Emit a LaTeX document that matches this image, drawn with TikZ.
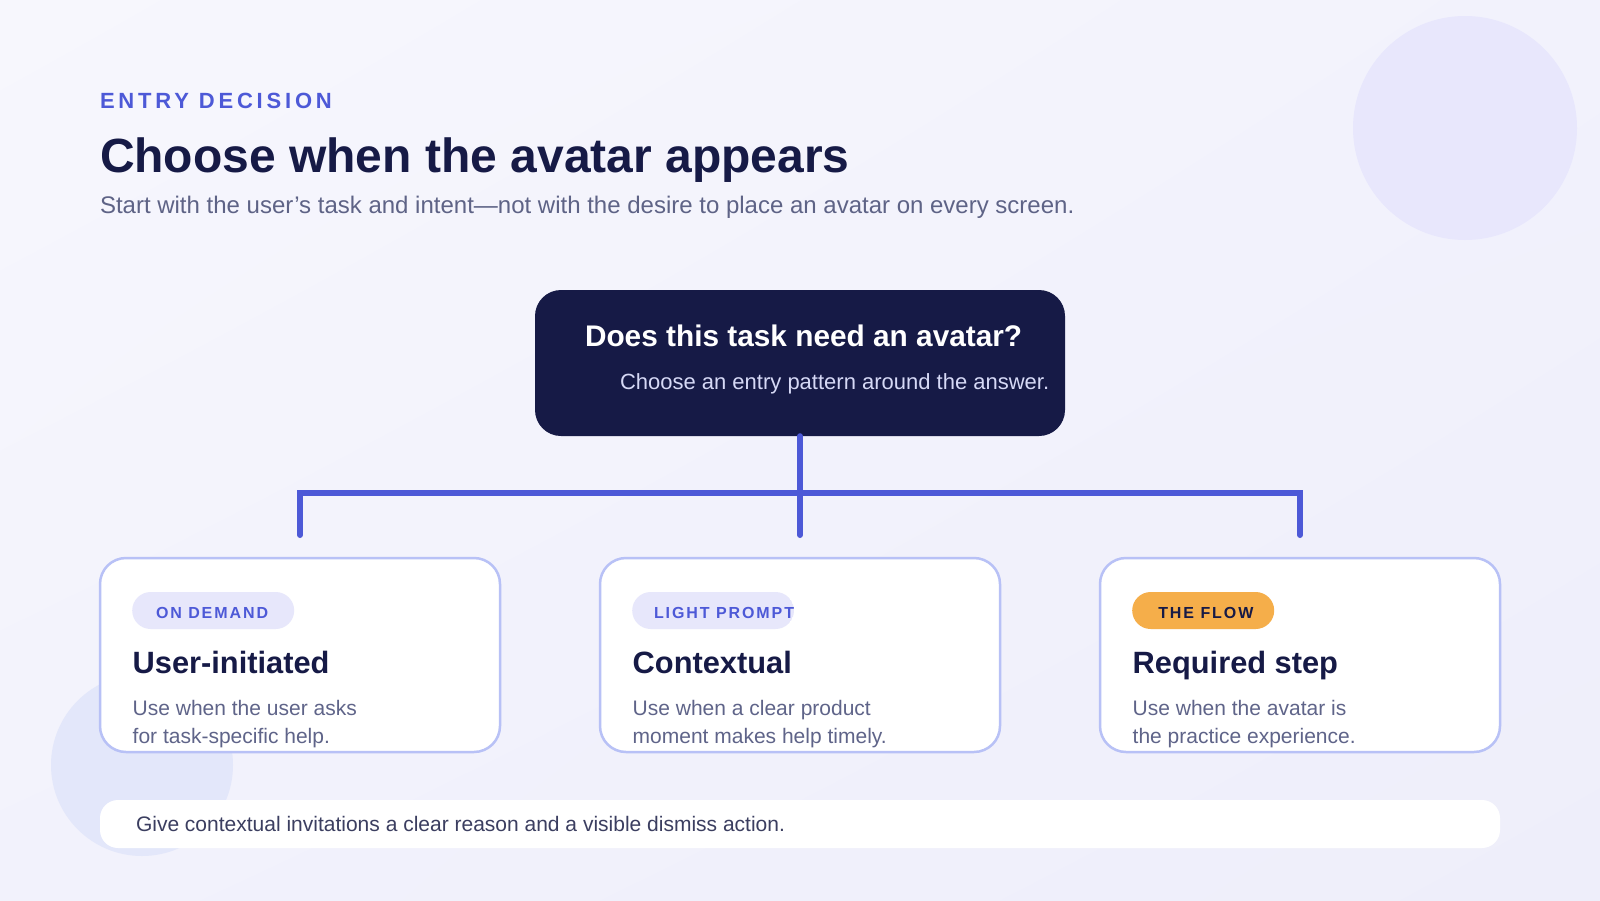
\documentclass[tikz,border=0pt]{standalone}
\usepackage{fontspec}
\usetikzlibrary{shadings}
\setmainfont{Liberation Sans}
\newfontfamily\eyebrowfont{Liberation Sans}[LetterSpace=17.3]
\newfontfamily\pillfont{Liberation Sans}[LetterSpace=12]
\newcommand\setfs[2]{\fontsize{#1}{#2}\selectfont}
\definecolor{bgA}{HTML}{F7F7FD}
\definecolor{bgB}{HTML}{F2F2FC}
\definecolor{bgC}{HTML}{EEEEFA}
\definecolor{circA}{HTML}{E8E7FC}
\definecolor{circB}{HTML}{E3E7FA}
\definecolor{navy}{HTML}{161A46}
\definecolor{accent}{HTML}{4D59D7}
\definecolor{subgrey}{HTML}{5E6386}
\definecolor{cardline}{HTML}{B8C1F6}
\definecolor{pillbg}{HTML}{E7E7FB}
\definecolor{pillorange}{HTML}{F5AE4A}
\definecolor{descgrey}{HTML}{5F6489}
\definecolor{notetext}{HTML}{3B3E60}
\definecolor{boxsub}{HTML}{D6D9F6}
\tikzset{
  txt/.style={anchor=base west, inner sep=0pt, outer sep=0pt},
  qbox/.style={fill=navy, rounded corners=26pt, minimum width=530pt, minimum height=146pt, inner sep=0pt},
  card/.style={draw=cardline, line width=2.5pt, fill=white, rounded corners=26pt, minimum width=400pt, minimum height=194pt, inner sep=0pt},
  pill/.style={rounded corners=18.5pt, minimum height=37pt, inner sep=0pt, anchor=west},
  conn/.style={draw=accent, line width=6pt, line cap=round, line join=miter},
  cardtitle/.style={txt, text=navy, font=\bfseries\setfs{30.8}{36}},
  desc/.style={txt, text=descgrey, font=\setfs{21}{27}},
  pilltext/.style={txt, font=\pillfont\bfseries\setfs{16}{19}},
  note/.style={fill=white, rounded corners=18pt, minimum width=1400pt, minimum height=48pt, inner sep=0pt}
}
\begin{document}
\begin{tikzpicture}[x=1pt,y=-1pt]
\useasboundingbox (0,0) rectangle (1600,900);
\shade[upper left=bgA, upper right=bgB, lower left=bgB, lower right=bgC] (0,0) rectangle (1600,900);
% decorative circles
\fill[circA] (1465,128) circle[radius=112];
\fill[circB] (142,765) circle[radius=91];

% header
\node[txt, text=accent, font=\eyebrowfont\bfseries\setfs{22}{26}] (eyebrow) at (100,108) {ENTRY DECISION};
\node[txt, text=navy, font=\bfseries\setfs{48}{56}] (title) at (100,172) {Choose when the avatar appears};
\node[txt, text=subgrey, font=\setfs{24}{28}] (subtitle) at (100,213) {Start with the user’s task and intent—not with the desire to place an avatar on every screen.};

% question box
\node[qbox] (q) at (800,363) {};
\node[txt, text=white, font=\bfseries\setfs{29.8}{34}] (qtitle) at (585,346) {Does this task need an avatar?};
\node[txt, text=boxsub, font=\setfs{22}{26}] (qsub) at (620,389) {Choose an entry pattern around the answer.};

% cards
\node[card] (c1) at (300,655) {};
\node[card] (c2) at (800,655) {};
\node[card] (c3) at (1300,655) {};

% connectors
\coordinate (bl) at (300,493);
\coordinate (br) at (1300,493);
\coordinate (e1) at (300,535);
\coordinate (e2) at (800,535);
\coordinate (e3) at (1300,535);
\draw[conn] (e1) -- (bl) -- (br) -- (e3);
\draw[conn] (q.south) -- (e2);

% card 1
\node[pill, fill=pillbg, minimum width=162pt] (p1) at (132,610.5) {};
\node[pilltext, text=accent] (p1t) at (156,618.7) {ON DEMAND};
\node[cardtitle] (t1) at (132.7,673.3) {User-initiated};
\node[desc] (d1a) at (132.7,715.7) {Use when the user asks};
\node[desc] (d1b) at (132.7,743.3) {for task-specific help.};

% card 2
\begin{scope}
\clip[rounded corners=18.5pt] (632,592) rectangle (794,629);
\node[pill, fill=pillbg, minimum width=162pt] (p2) at (632,610.5) {};
\node[pilltext, text=accent] (p2t) at (654,618.7) {LIGHT PROMPT};
\end{scope}
\node[cardtitle] (t2) at (632.7,673.3) {Contextual};
\node[desc] (d2a) at (632.7,715.7) {Use when a clear product};
\node[desc] (d2b) at (632.7,743.3) {moment makes help timely.};

% card 3
\node[pill, fill=pillorange, minimum width=142pt] (p3) at (1132,610.5) {};
\node[pilltext, text=navy] (p3t) at (1158.3,618.7) {THE FLOW};
\node[cardtitle] (t3) at (1132.7,673.3) {Required step};
\node[desc] (d3a) at (1132.7,715.7) {Use when the avatar is};
\node[desc] (d3b) at (1132.7,743.3) {the practice experience.};

% note bar
\node[note] (nb) at (800,824) {};
\node[txt, text=notetext, font=\setfs{21}{25}] (nbt) at (136,831) {Give contextual invitations a clear reason and a visible dismiss action.};
\end{tikzpicture}
\end{document}
